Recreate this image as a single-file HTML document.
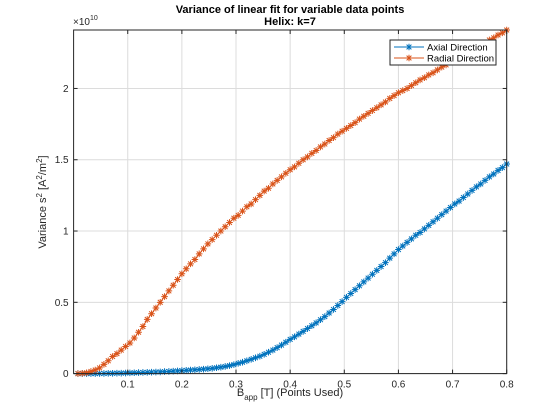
<!DOCTYPE html>
<html><head><meta charset="utf-8"><style>
html,body{margin:0;padding:0;background:#fff;}
svg{display:block;font-family:"Liberation Sans",Helvetica,Arial,sans-serif;}
</style></head><body>
<svg id="chart" width="560" height="420" viewBox="0 0 560 420">
<rect x="0" y="0" width="560" height="420" fill="#fff"/>
<g id="grid"></g>
<g id="series"></g>
<g id="axes"></g>
<text x="290" y="13" text-anchor="middle" font-size="11" font-weight="bold" fill="#000">Variance of linear fit for variable data points</text>
<text x="290" y="25" text-anchor="middle" font-size="11" font-weight="bold" fill="#000">Helix: k=7</text>
<text x="73" y="25" font-size="10" fill="#262626">×10<tspan dy="-5" font-size="7">10</tspan></text>
<text transform="translate(46,202) rotate(-90)" text-anchor="middle" font-size="11" fill="#262626">Variance s<tspan dy="-4" font-size="8">2</tspan><tspan dy="4"> [A</tspan><tspan dy="-4" font-size="8">2</tspan><tspan dy="4">/m</tspan><tspan dy="-4" font-size="8">2</tspan><tspan dy="4">]</tspan></text>
<text x="290" y="396" text-anchor="middle" font-size="11" fill="#262626">B<tspan dy="4" font-size="8">app</tspan><tspan dy="-4"> [T] (Points Used)</tspan></text>
<g id="legend">
<rect x="390" y="40" width="106" height="25" fill="#fff" stroke="#262626" stroke-width="1"/>
</g>
</svg>
<script>
const xValues=[0.008,0.016,0.024,0.032,0.040,0.048,0.056,0.064,0.072,0.080,0.088,0.096,0.104,0.112,0.120,0.128,0.136,0.144,0.152,0.160,0.168,0.176,0.184,0.192,0.200,0.208,0.216,0.224,0.232,0.240,0.248,0.256,0.264,0.272,0.280,0.288,0.296,0.304,0.312,0.320,0.328,0.336,0.344,0.352,0.360,0.368,0.376,0.384,0.392,0.400,0.408,0.416,0.424,0.432,0.440,0.448,0.456,0.464,0.472,0.480,0.488,0.496,0.504,0.512,0.520,0.528,0.536,0.544,0.552,0.560,0.568,0.576,0.584,0.592,0.600,0.608,0.616,0.624,0.632,0.640,0.648,0.656,0.664,0.672,0.680,0.688,0.696,0.704,0.712,0.720,0.728,0.736,0.744,0.752,0.760,0.768,0.776,0.784,0.792,0.800];
const radialValues=[0.000,0.002,0.006,0.015,0.025,0.040,0.065,0.09,0.12,0.14,0.165,0.19,0.215,0.25,0.29,0.33,0.38,0.42,0.46,0.50,0.54,0.58,0.62,0.66,0.70,0.735,0.77,0.80,0.84,0.875,0.91,0.94,0.97,1.00,1.03,1.06,1.09,1.11,1.14,1.17,1.19,1.22,1.25,1.28,1.30,1.33,1.355,1.38,1.405,1.43,1.45,1.475,1.50,1.52,1.545,1.565,1.59,1.61,1.635,1.655,1.68,1.70,1.72,1.74,1.76,1.785,1.805,1.825,1.845,1.865,1.885,1.905,1.93,1.95,1.97,1.985,2.00,2.02,2.04,2.06,2.075,2.095,2.11,2.13,2.15,2.165,2.185,2.20,2.215,2.235,2.25,2.27,2.285,2.30,2.32,2.34,2.355,2.375,2.39,2.41];
const axialValues=[0,0,0,0,0,0.001,0.001,0.002,0.002,0.003,0.003,0.004,0.005,0.006,0.007,0.008,0.009,0.010,0.011,0.012,0.014,0.015,0.017,0.019,0.021,0.023,0.025,0.027,0.029,0.031,0.034,0.037,0.041,0.045,0.050,0.056,0.063,0.072,0.080,0.090,0.100,0.111,0.122,0.135,0.150,0.165,0.182,0.200,0.220,0.240,0.258,0.277,0.296,0.316,0.336,0.356,0.378,0.40,0.425,0.45,0.478,0.505,0.535,0.562,0.589,0.616,0.643,0.670,0.697,0.724,0.751,0.778,0.81,0.84,0.87,0.895,0.92,0.945,0.97,0.99,1.015,1.04,1.065,1.09,1.115,1.14,1.165,1.19,1.21,1.235,1.26,1.285,1.31,1.33,1.355,1.38,1.40,1.425,1.445,1.47];
const xTicks=[0.1,0.2,0.3,0.4,0.5,0.6,0.7,0.8];
const xTickLabels=["0.1","0.2","0.3","0.4","0.5","0.6","0.7","0.8"];
const yTicks=[0,0.5,1,1.5,2];
const yTickLabels=["0","0.5","1","1.5","2"];
const seriesNames=["Axial Direction","Radial Direction"];

const NS="http://www.w3.org/2000/svg";
const L=73.6,R=506.7,T=30,B=373.6,XMAX=0.8,YMAX=2.41;
function sx(v){return L+v/XMAX*(R-L);}
function sy(v){return B-v/YMAX*(B-T);}
function mk(tag,attrs,parent){const e=document.createElementNS(NS,tag);for(const k in attrs)e.setAttribute(k,attrs[k]);parent.appendChild(e);return e;}
const grid=document.getElementById('grid'),axes=document.getElementById('axes'),series=document.getElementById('series'),legend=document.getElementById('legend');

xTicks.forEach((t,i)=>{
  const g=mk('line',{x1:sx(t),x2:sx(t),y1:T,y2:B,stroke:'#dcdcdc','stroke-width':1},grid);
  
  
  const tk=mk('line',{x1:sx(t),x2:sx(t),y1:B,y2:B-4,stroke:'#262626'},axes);
  
  
  const tk2=mk('line',{x1:sx(t),x2:sx(t),y1:T,y2:T+4,stroke:'#262626'},axes);
  
  
  const lb=mk('text',{x:sx(t),y:B+14,'text-anchor':'middle','font-size':10,fill:'#262626'},axes);
  lb.textContent=xTickLabels[i];
  
  
});
yTicks.forEach((t,i)=>{
  const g=mk('line',{x1:L,x2:R,y1:sy(t),y2:sy(t),stroke:'#dcdcdc','stroke-width':1},grid);
  
  
  const tk=mk('line',{x1:L,x2:L+4,y1:sy(t),y2:sy(t),stroke:'#262626'},axes);
  
  
  const tk2=mk('line',{x1:R,x2:R-4,y1:sy(t),y2:sy(t),stroke:'#262626'},axes);
  
  
  const lb=mk('text',{x:L-5,y:sy(t)+3.5,'text-anchor':'end','font-size':10,fill:'#262626'},axes);
  lb.textContent=yTickLabels[i];
  
  
});
const box=mk('rect',{x:L,y:T,width:R-L,height:B-T,fill:'none',stroke:'#262626','stroke-width':1},axes);



function star(g,x,y,c){
  const r=3.3,d=2.4;
  mk('path',{d:`M${x-r},${y}H${x+r}M${x},${y-r}V${y+r}M${x-d},${y-d}L${x+d},${y+d}M${x-d},${y+d}L${x+d},${y-d}`,stroke:c,'stroke-width':1,fill:'none'},g);
}
function drawSeries(vals,color,name){
  const g=mk('g',{},series);
  
  
  const pts=vals.map((v,i)=>sx(xValues[i]).toFixed(2)+','+sy(v).toFixed(2)).join(' ');
  mk('polyline',{points:pts,fill:'none',stroke:color,'stroke-width':1},g);
  vals.forEach((v,i)=>star(g,sx(xValues[i]),sy(v),color));
}
drawSeries(axialValues,'#0072bd','axial-series');
drawSeries(radialValues,'#d95319','radial-series');

const colors=['#0072bd','#d95319'];
seriesNames.forEach((n,i)=>{
  const y=47+i*11;
  const g=mk('g',{},legend);
  
  
  mk('line',{x1:394,x2:424,y1:y,y2:y,stroke:colors[i],'stroke-width':1},g);
  star(g,409,y,colors[i]);
  const t=mk('text',{x:427,y:y+3.5,'font-size':9.5,fill:'#000'},g);
  t.textContent=n;
});
</script>
</body></html>
